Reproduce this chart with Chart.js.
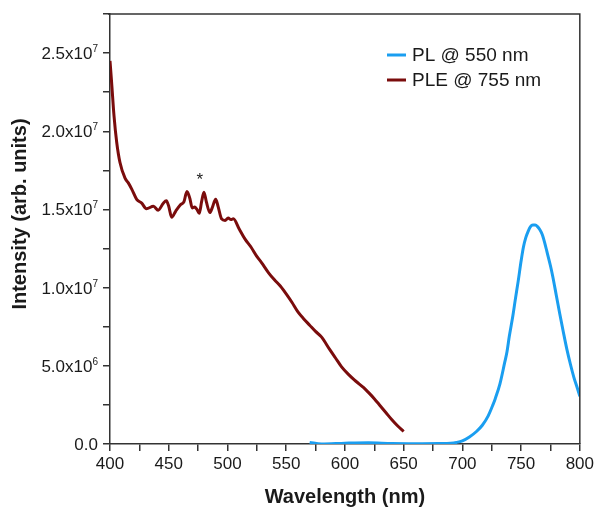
<!DOCTYPE html>
<html lang="en">
<head>
    <meta charset="UTF-8">
    <title>PL / PLE spectra</title>
    <script src="https://cdn.jsdelivr.net/npm/chart.js"></script>
    <style>
        body {
            margin: 0;
            padding: 0;
            background: #ffffff;
        }
        #wrap {
            width: 597px;
            height: 508px;
        }
    </style>
</head>
<body>
    <div id="wrap"><canvas id="specChart" width="597" height="508"></canvas></div>

    <script>
        // PLE spectrum (monitored at 755 nm)
        const pleWavelength = [400, 401.4, 403.4, 405.7, 408.5, 412.8, 415.6, 418.5, 422.7, 427, 431, 437, 441, 445.4, 448, 450,
            452.5, 456, 460, 463, 465.5, 468, 470, 472, 474, 476, 478, 480, 482, 485, 487, 490, 492, 495, 498, 500.6,
            503, 505, 510, 515, 520, 525, 529, 535, 540, 545, 550, 555, 560, 565, 570, 575, 580, 587, 592, 597,
            603, 608, 612, 616, 620, 625, 630, 635, 640, 645, 650];
        const pleIntensity = [24.5e6, 23.1e6, 21.0e6, 19.3e6, 18.0e6, 17.0e6, 16.7e6, 16.3e6, 15.65e6, 15.4e6, 15.05e6, 15.2e6, 14.95e6, 15.4e6, 15.55e6, 15.2e6,
            14.5e6, 14.9e6, 15.3e6, 15.5e6, 16.15e6, 15.7e6, 15.1e6, 15.15e6, 15.0e6, 14.75e6, 15.5e6, 16.1e6, 15.5e6, 14.8e6, 15.1e6, 15.65e6, 15.2e6, 14.4e6, 14.3e6, 14.45e6,
            14.35e6, 14.4e6, 13.75e6, 13.1e6, 12.6e6, 12.0e6, 11.6e6, 10.95e6, 10.5e6, 10.1e6, 9.6e6, 9.05e6, 8.45e6, 8.0e6, 7.6e6, 7.2e6, 6.85e6, 6.05e6, 5.5e6, 4.95e6,
            4.45e6, 4.1e6, 3.85e6, 3.6e6, 3.3e6, 2.9e6, 2.45e6, 2.0e6, 1.55e6, 1.15e6, 0.8e6];

        // PL spectrum (excited at 550 nm)
        const plWavelength = [570, 580, 600, 620, 640, 660, 680, 690, 695, 700, 706, 712, 717, 722, 726, 728, 732, 736, 738, 740,
            743, 745, 747.5, 750, 752, 754, 756, 758, 760, 762, 764, 766, 768, 770, 772, 775, 777, 780, 783, 786,
            789, 792, 795, 798, 800];
        const plIntensity = [0.1e6, 0.0, 0.05e6, 0.08e6, 0.03e6, 0.02e6, 0.03e6, 0.05e6, 0.1e6, 0.2e6, 0.45e6, 0.8e6, 1.2e6, 1.8e6, 2.5e6, 2.9e6, 3.85e6, 5.2e6, 5.9e6, 6.9e6,
            8.2e6, 9.2e6, 10.4e6, 11.7e6, 12.6e6, 13.2e6, 13.6e6, 13.9e6, 14.0e6, 14.0e6, 13.9e6, 13.7e6, 13.4e6, 12.9e6, 12.3e6, 11.4e6, 10.7e6, 9.5e6, 8.3e6, 7.15e6,
            6.05e6, 5.1e6, 4.25e6, 3.55e6, 3.05e6];

        const seriesLabels = ["PL @ 550 nm", "PLE @ 755 nm"];
        const seriesColors = ["#1a9ef0", "#7a0c0c"];

        const yTickValues = [0, 5e6, 1e7, 1.5e7, 2e7, 2.5e7];
        const yTickMantissa = ["0.0", "5.0x10", "1.0x10", "1.5x10", "2.0x10", "2.5x10"];
        const yTickExponent = ["", "6", "7", "7", "7", "7"];

        const xTitle = "Wavelength (nm)";
        const yTitle = "Intensity (arb. units)";
        const markText = "*";
        const markAt = { x: 476.5, y: 1.71e7 };

        const FONT = "'Liberation Sans', Arial, sans-serif";
        const INK = "#1a1a1a";

        function toPoints(xs, ys) {
            return xs.map((x, i) => ({ x: x, y: ys[i] }));
        }

        // frame, y labels with superscripts, titles, legend, asterisk
        const decorPlugin = {
            id: "decor",
            afterDraw(chart) {
                const ctx = chart.ctx;
                const area = chart.chartArea;
                const xs = chart.scales.x;
                const ys = chart.scales.y;
                ctx.save();

                // top + right frame lines
                ctx.strokeStyle = "#333";
                ctx.lineWidth = 1.5;
                ctx.beginPath();
                ctx.moveTo(area.left - 2, area.top);
                ctx.lineTo(area.right, area.top);
                ctx.lineTo(area.right, area.bottom);
                ctx.stroke();

                // y tick labels
                ctx.fillStyle = INK;
                ctx.textBaseline = "alphabetic";
                yTickValues.forEach((v, i) => {
                    const py = ys.getPixelForValue(v);
                    const right = area.left - 12;
                    ctx.font = "10px " + FONT;
                    const ew = yTickExponent[i] ? ctx.measureText(yTickExponent[i]).width : 0;
                    ctx.textAlign = "left";
                    if (yTickExponent[i]) {
                        ctx.fillText(yTickExponent[i], right - ew, py - 1);
                    }
                    ctx.font = "17px " + FONT;
                    ctx.textAlign = "right";
                    ctx.fillText(yTickMantissa[i], right - ew, py + 6);
                });

                // axis titles
                ctx.font = "bold 20px " + FONT;
                ctx.textAlign = "center";
                ctx.textBaseline = "middle";
                ctx.fillText(xTitle, (area.left + area.right) / 2, 497);
                ctx.save();
                ctx.translate(20, 214);
                ctx.rotate(-Math.PI / 2);
                ctx.fillText(yTitle, 0, 0);
                ctx.restore();

                // legend
                ctx.font = "19px " + FONT;
                ctx.textAlign = "left";
                ctx.textBaseline = "middle";
                const rows = [55, 80];
                seriesLabels.forEach((label, i) => {
                    ctx.strokeStyle = seriesColors[i];
                    ctx.lineWidth = 3;
                    ctx.beginPath();
                    ctx.moveTo(387, rows[i]);
                    ctx.lineTo(406, rows[i]);
                    ctx.stroke();
                    ctx.fillStyle = INK;
                    ctx.fillText(label, 412, rows[i] + 1);
                });

                // asterisk over the sharp peak
                ctx.font = "17px " + FONT;
                ctx.textAlign = "center";
                ctx.textBaseline = "middle";
                ctx.fillText(markText, xs.getPixelForValue(markAt.x), ys.getPixelForValue(markAt.y) + 4);

                ctx.restore();
            }
        };

        const ctx = document.getElementById("specChart").getContext("2d");
        new Chart(ctx, {
            type: "line",
            data: {
                datasets: [
                    {
                        label: seriesLabels[0],
                        data: toPoints(plWavelength, plIntensity),
                        borderColor: seriesColors[0],
                        borderWidth: 3,
                        pointRadius: 0,
                        cubicInterpolationMode: "monotone",
                        fill: false
                    },
                    {
                        label: seriesLabels[1],
                        data: toPoints(pleWavelength, pleIntensity),
                        borderColor: seriesColors[1],
                        borderWidth: 3,
                        pointRadius: 0,
                        cubicInterpolationMode: "monotone",
                        fill: false
                    }
                ]
            },
            options: {
                responsive: false,
                animation: false,
                layout: { padding: { top: 14, right: 17, left: 0, bottom: 0 } },
                plugins: {
                    legend: { display: false },
                    tooltip: { enabled: false }
                },
                scales: {
                    x: {
                        type: "linear",
                        min: 400,
                        max: 800,
                        afterFit(scale) { scale.height = 64; },
                        border: { color: "#333", width: 1.5 },
                        grid: { drawOnChartArea: false, drawTicks: true, tickLength: 7, color: "#333", lineWidth: 1.5 },
                        ticks: {
                            stepSize: 25,
                            padding: 3,
                            color: INK,
                            font: { family: FONT, size: 17 },
                            maxRotation: 0,
                            autoSkip: false,
                            callback: (v) => (v % 50 === 0 ? String(v) : "")
                        }
                    },
                    y: {
                        min: 0,
                        max: 2.75e7,
                        afterFit(scale) { scale.width = 110; },
                        border: { color: "#333", width: 1.5 },
                        grid: { drawOnChartArea: false, drawTicks: true, tickLength: 7, color: "#333", lineWidth: 1.5 },
                        ticks: {
                            stepSize: 2.5e6,
                            display: false
                        }
                    }
                }
            },
            plugins: [decorPlugin]
        });
    </script>
</body>
</html>
